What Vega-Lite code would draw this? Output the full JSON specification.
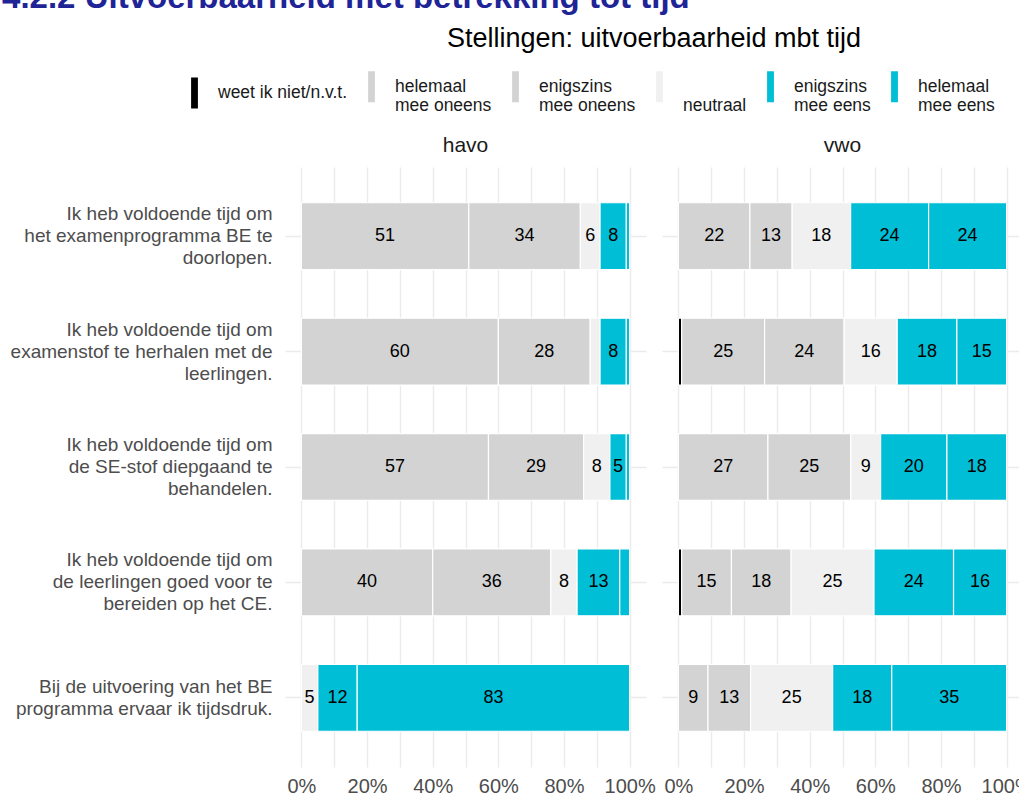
{
  "$schema": "https://vega.github.io/schema/vega-lite/v6.json",
  "padding": {"left": 2, "top": -18, "right": 0, "bottom": 0},
  "background": "white",
  "title": {"text": "4.2.2  Uitvoerbaarheid met betrekking tot tijd", "fontSize": 33, "fontWeight": "bold", "font": "Liberation Sans", "color": "#1F2497", "anchor": "start", "dx": -8, "offset": 10},
  "data": {"values": [
    {"school": "havo", "stelling": "Ik heb voldoende tijd om|het examenprogramma BE te|doorlopen.", "antwoord": "helemaal mee oneens", "pct": 51},
    {"school": "havo", "stelling": "Ik heb voldoende tijd om|het examenprogramma BE te|doorlopen.", "antwoord": "enigszins mee oneens", "pct": 34},
    {"school": "havo", "stelling": "Ik heb voldoende tijd om|het examenprogramma BE te|doorlopen.", "antwoord": "neutraal", "pct": 6},
    {"school": "havo", "stelling": "Ik heb voldoende tijd om|het examenprogramma BE te|doorlopen.", "antwoord": "enigszins mee eens", "pct": 8},
    {"school": "havo", "stelling": "Ik heb voldoende tijd om|het examenprogramma BE te|doorlopen.", "antwoord": "helemaal mee eens", "pct": 1},
    {"school": "havo", "stelling": "Ik heb voldoende tijd om|examenstof te herhalen met de|leerlingen.", "antwoord": "helemaal mee oneens", "pct": 60},
    {"school": "havo", "stelling": "Ik heb voldoende tijd om|examenstof te herhalen met de|leerlingen.", "antwoord": "enigszins mee oneens", "pct": 28},
    {"school": "havo", "stelling": "Ik heb voldoende tijd om|examenstof te herhalen met de|leerlingen.", "antwoord": "neutraal", "pct": 3},
    {"school": "havo", "stelling": "Ik heb voldoende tijd om|examenstof te herhalen met de|leerlingen.", "antwoord": "enigszins mee eens", "pct": 8},
    {"school": "havo", "stelling": "Ik heb voldoende tijd om|examenstof te herhalen met de|leerlingen.", "antwoord": "helemaal mee eens", "pct": 1},
    {"school": "havo", "stelling": "Ik heb voldoende tijd om|de SE-stof diepgaand te|behandelen.", "antwoord": "helemaal mee oneens", "pct": 57},
    {"school": "havo", "stelling": "Ik heb voldoende tijd om|de SE-stof diepgaand te|behandelen.", "antwoord": "enigszins mee oneens", "pct": 29},
    {"school": "havo", "stelling": "Ik heb voldoende tijd om|de SE-stof diepgaand te|behandelen.", "antwoord": "neutraal", "pct": 8},
    {"school": "havo", "stelling": "Ik heb voldoende tijd om|de SE-stof diepgaand te|behandelen.", "antwoord": "enigszins mee eens", "pct": 5},
    {"school": "havo", "stelling": "Ik heb voldoende tijd om|de SE-stof diepgaand te|behandelen.", "antwoord": "helemaal mee eens", "pct": 1},
    {"school": "havo", "stelling": "Ik heb voldoende tijd om|de leerlingen goed voor te|bereiden op het CE.", "antwoord": "helemaal mee oneens", "pct": 40},
    {"school": "havo", "stelling": "Ik heb voldoende tijd om|de leerlingen goed voor te|bereiden op het CE.", "antwoord": "enigszins mee oneens", "pct": 36},
    {"school": "havo", "stelling": "Ik heb voldoende tijd om|de leerlingen goed voor te|bereiden op het CE.", "antwoord": "neutraal", "pct": 8},
    {"school": "havo", "stelling": "Ik heb voldoende tijd om|de leerlingen goed voor te|bereiden op het CE.", "antwoord": "enigszins mee eens", "pct": 13},
    {"school": "havo", "stelling": "Ik heb voldoende tijd om|de leerlingen goed voor te|bereiden op het CE.", "antwoord": "helemaal mee eens", "pct": 3},
    {"school": "havo", "stelling": "Bij de uitvoering van het BE|programma ervaar ik tijdsdruk.", "antwoord": "neutraal", "pct": 5},
    {"school": "havo", "stelling": "Bij de uitvoering van het BE|programma ervaar ik tijdsdruk.", "antwoord": "enigszins mee eens", "pct": 12},
    {"school": "havo", "stelling": "Bij de uitvoering van het BE|programma ervaar ik tijdsdruk.", "antwoord": "helemaal mee eens", "pct": 83},
    {"school": "vwo", "stelling": "Ik heb voldoende tijd om|het examenprogramma BE te|doorlopen.", "antwoord": "helemaal mee oneens", "pct": 22},
    {"school": "vwo", "stelling": "Ik heb voldoende tijd om|het examenprogramma BE te|doorlopen.", "antwoord": "enigszins mee oneens", "pct": 13},
    {"school": "vwo", "stelling": "Ik heb voldoende tijd om|het examenprogramma BE te|doorlopen.", "antwoord": "neutraal", "pct": 18},
    {"school": "vwo", "stelling": "Ik heb voldoende tijd om|het examenprogramma BE te|doorlopen.", "antwoord": "enigszins mee eens", "pct": 24},
    {"school": "vwo", "stelling": "Ik heb voldoende tijd om|het examenprogramma BE te|doorlopen.", "antwoord": "helemaal mee eens", "pct": 24},
    {"school": "vwo", "stelling": "Ik heb voldoende tijd om|examenstof te herhalen met de|leerlingen.", "antwoord": "weet ik niet/n.v.t.", "pct": 1},
    {"school": "vwo", "stelling": "Ik heb voldoende tijd om|examenstof te herhalen met de|leerlingen.", "antwoord": "helemaal mee oneens", "pct": 25},
    {"school": "vwo", "stelling": "Ik heb voldoende tijd om|examenstof te herhalen met de|leerlingen.", "antwoord": "enigszins mee oneens", "pct": 24},
    {"school": "vwo", "stelling": "Ik heb voldoende tijd om|examenstof te herhalen met de|leerlingen.", "antwoord": "neutraal", "pct": 16},
    {"school": "vwo", "stelling": "Ik heb voldoende tijd om|examenstof te herhalen met de|leerlingen.", "antwoord": "enigszins mee eens", "pct": 18},
    {"school": "vwo", "stelling": "Ik heb voldoende tijd om|examenstof te herhalen met de|leerlingen.", "antwoord": "helemaal mee eens", "pct": 15},
    {"school": "vwo", "stelling": "Ik heb voldoende tijd om|de SE-stof diepgaand te|behandelen.", "antwoord": "helemaal mee oneens", "pct": 27},
    {"school": "vwo", "stelling": "Ik heb voldoende tijd om|de SE-stof diepgaand te|behandelen.", "antwoord": "enigszins mee oneens", "pct": 25},
    {"school": "vwo", "stelling": "Ik heb voldoende tijd om|de SE-stof diepgaand te|behandelen.", "antwoord": "neutraal", "pct": 9},
    {"school": "vwo", "stelling": "Ik heb voldoende tijd om|de SE-stof diepgaand te|behandelen.", "antwoord": "enigszins mee eens", "pct": 20},
    {"school": "vwo", "stelling": "Ik heb voldoende tijd om|de SE-stof diepgaand te|behandelen.", "antwoord": "helemaal mee eens", "pct": 18},
    {"school": "vwo", "stelling": "Ik heb voldoende tijd om|de leerlingen goed voor te|bereiden op het CE.", "antwoord": "weet ik niet/n.v.t.", "pct": 1},
    {"school": "vwo", "stelling": "Ik heb voldoende tijd om|de leerlingen goed voor te|bereiden op het CE.", "antwoord": "helemaal mee oneens", "pct": 15},
    {"school": "vwo", "stelling": "Ik heb voldoende tijd om|de leerlingen goed voor te|bereiden op het CE.", "antwoord": "enigszins mee oneens", "pct": 18},
    {"school": "vwo", "stelling": "Ik heb voldoende tijd om|de leerlingen goed voor te|bereiden op het CE.", "antwoord": "neutraal", "pct": 25},
    {"school": "vwo", "stelling": "Ik heb voldoende tijd om|de leerlingen goed voor te|bereiden op het CE.", "antwoord": "enigszins mee eens", "pct": 24},
    {"school": "vwo", "stelling": "Ik heb voldoende tijd om|de leerlingen goed voor te|bereiden op het CE.", "antwoord": "helemaal mee eens", "pct": 16},
    {"school": "vwo", "stelling": "Bij de uitvoering van het BE|programma ervaar ik tijdsdruk.", "antwoord": "helemaal mee oneens", "pct": 9},
    {"school": "vwo", "stelling": "Bij de uitvoering van het BE|programma ervaar ik tijdsdruk.", "antwoord": "enigszins mee oneens", "pct": 13},
    {"school": "vwo", "stelling": "Bij de uitvoering van het BE|programma ervaar ik tijdsdruk.", "antwoord": "neutraal", "pct": 25},
    {"school": "vwo", "stelling": "Bij de uitvoering van het BE|programma ervaar ik tijdsdruk.", "antwoord": "enigszins mee eens", "pct": 18},
    {"school": "vwo", "stelling": "Bij de uitvoering van het BE|programma ervaar ik tijdsdruk.", "antwoord": "helemaal mee eens", "pct": 35}
  ]},
  "transform": [
    {"calculate": "indexof(['weet ik niet/n.v.t.','helemaal mee oneens','enigszins mee oneens','neutraal','enigszins mee eens','helemaal mee eens'], datum.antwoord)", "as": "volgorde"}
  ],
  "facet": {
    "column": {"field": "school", "type": "nominal", "title": "Stellingen: uitvoerbaarheid mbt tijd",
      "header": {"labelFontSize": 21, "labelColor": "#1A1A1A", "labelFont": "Liberation Sans", "labelPadding": 11,
        "titleFontSize": 27, "titleFontWeight": "normal", "titleFont": "Liberation Sans", "titleColor": "#000000", "titlePadding": 72}}
  },
  "spacing": 16,
  "spec": {
    "width": 361,
    "height": 600,
    "encoding": {
      "y": {"field": "stelling", "type": "nominal", "title": null,
        "sort": ["Ik heb voldoende tijd om|het examenprogramma BE te|doorlopen.", "Ik heb voldoende tijd om|examenstof te herhalen met de|leerlingen.", "Ik heb voldoende tijd om|de SE-stof diepgaand te|behandelen.", "Ik heb voldoende tijd om|de leerlingen goed voor te|bereiden op het CE.", "Bij de uitvoering van het BE|programma ervaar ik tijdsdruk."],
        "scale": {"paddingInner": 0.42, "paddingOuter": 0.31},
        "axis": {"labelExpr": "split(datum.label, '|')", "labelFontSize": 19, "labelColor": "#4D4D4D", "labelFont": "Liberation Sans", "labelLineHeight": 22, "labelLimit": 0, "labelPadding": 13,
          "labelOffset": {"condition": {"test": "indexof(datum.value, 'Bij') == 0", "value": -11}, "value": -22},
          "ticks": false, "domain": false, "grid": true, "bandPosition": 0.5, "gridColor": "#EBEBEB", "gridWidth": 1.4}
      },
      "x": {"field": "pct", "type": "quantitative", "stack": "normalize", "title": null,
        "scale": {"domain": [-0.05, 1.05], "nice": false, "zero": false},
        "axis": {"values": [0, 0.1, 0.2, 0.3, 0.4, 0.5, 0.6, 0.7, 0.8, 0.9, 1.0], "labelExpr": "round(datum.value*10) % 2 == 0 ? format(datum.value, '.0%') : ''", "labelFontSize": 20, "labelColor": "#4D4D4D", "labelFont": "Liberation Sans", "labelPadding": 9, "ticks": false, "domain": false, "grid": true, "gridColor": "#EBEBEB", "gridWidth": 1.4, "labelFlush": false, "labelOverlap": false}
      },
      "order": {"field": "volgorde", "type": "quantitative", "sort": "ascending"}
    },
    "layer": [
      {"mark": {"type": "bar", "stroke": "white", "strokeWidth": 1.2},
        "encoding": {
          "color": {"field": "antwoord", "type": "nominal",
            "scale": {"domain": ["weet ik niet/n.v.t.", "helemaal mee oneens", "enigszins mee oneens", "neutraal", "enigszins mee eens", "helemaal mee eens"],
                      "range": ["#000000", "#D3D3D3", "#D3D3D3", "#F0F0F0", "#00BED6", "#00BED6"]},
            "legend": {"title": null, "orient": "none", "legendX": -106, "legendY": -96, "direction": "horizontal",
              "labelExpr": "datum.label == 'neutraal' ? ['', 'neutraal'] : (indexof(datum.label, ' mee ') > 0 ? split(replace(datum.label, ' mee ', '|mee '), '|') : datum.label)",
              "symbolType": "M-0.22,-1H0.22V1H-0.22Z", "symbolSize": 961, "symbolStrokeWidth": 0, "symbolOpacity": 1,
              "labelFontSize": 17.5, "labelFont": "Liberation Sans", "labelColor": "#1A1A1A", "labelLineHeight": 18,
              "labelOffset": 8, "columnPadding": 8, "labelLimit": 0}
          }
        }
      },
      {"mark": {"type": "text", "fontSize": 18, "font": "Liberation Sans", "color": "#000000"},
        "encoding": {
          "x": {"field": "pct", "type": "quantitative", "stack": "normalize", "bandPosition": 0.5},
          "text": {"condition": {"test": "datum.pct < 4", "value": ""}, "field": "pct", "type": "quantitative"}
        }
      }
    ]
  },
  "config": {
    "view": {"stroke": null},
    "font": "Liberation Sans"
  }
}
